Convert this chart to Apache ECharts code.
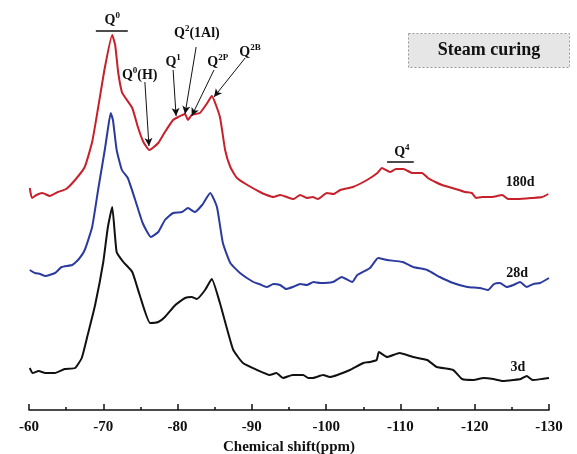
<!DOCTYPE html>
<html><head><meta charset="utf-8">
<script src="https://cdn.jsdelivr.net/npm/echarts@6/dist/echarts.min.js"></script>
<style>html,body{margin:0;padding:0;background:#fff}#c{width:577px;height:454px}</style>
</head><body><div id="c"></div>
<script>
// Chemical shift (ppm) and relative intensity for each curing age
const shift180 = [-60.1,-60.4,-61.0,-61.8,-62.8,-63.9,-65.0,-66.2,-67.5,-68.5,-69.3,-70.2,-71.2,-71.6,-72.0,-72.5,-72.9,-73.9,-74.7,-75.4,-76.2,-77.4,-78.3,-79.4,-80.1,-81.0,-81.4,-81.9,-83.0,-84.0,-84.6,-85.7,-86.4,-87.1,-88.0,-89.4,-91.1,-92.0,-92.9,-93.8,-94.7,-95.6,-96.5,-97.4,-98.2,-98.9,-100.1,-101.0,-101.9,-103.6,-105.5,-106.9,-107.5,-108.6,-109.4,-110.4,-111.6,-112.9,-113.7,-114.7,-115.6,-117.0,-118.7,-119.6,-120.2,-121.0,-122.3,-123.7,-124.5,-125.8,-127.7,-129.1,-129.9];
const int180   = [222,212,215,217,214,218,221,230,243,268,302,342,375,365,338,318,313,302,282,268,260,267,278,290,293,296,290,295,297,307,314,293,260,243,232,225,218,215,213,215,213,211,215,212,213,211,217,216,220,223,230,237,242,238,241,241,237,237,232,228,225,222,218,217,212,213,213,215,211,211,212,213,216];

const shift28 = [-60.1,-60.8,-61.5,-62.2,-63.5,-64.4,-65.8,-66.6,-67.5,-68.5,-69.3,-70.2,-70.6,-71.0,-71.3,-71.8,-72.5,-73.3,-74.3,-75.3,-76.4,-77.4,-78.3,-79.4,-80.6,-81.4,-82.3,-83.3,-84.4,-85.3,-86.1,-87.1,-88.4,-90.2,-91.0,-92.0,-92.9,-93.8,-94.6,-95.5,-96.5,-97.4,-98.3,-99.2,-100.9,-102.1,-103.5,-104.2,-105.9,-107.0,-108.2,-110.3,-111.7,-113.6,-115.3,-117.1,-119.0,-120.7,-121.8,-122.6,-123.4,-124.3,-125.2,-126.1,-127.0,-127.9,-128.8,-130.0];
const int28   = [140,137,136,134,137,143,145,150,160,183,220,260,280,297,290,260,240,232,210,187,173,178,190,197,198,202,198,205,217,203,167,147,137,128,126,123,126,125,121,123,126,125,128,127,128,133,128,135,142,152,150,148,143,140,133,127,123,122,120,126,127,123,125,128,123,126,127,132];

const shift3 = [-60.1,-60.5,-61.3,-62.2,-63.5,-64.8,-66.2,-67.1,-67.9,-68.9,-70.0,-70.6,-71.2,-71.8,-72.7,-73.9,-74.9,-76.3,-77.4,-78.3,-79.7,-81.0,-81.9,-82.6,-83.7,-84.6,-85.7,-86.7,-87.5,-88.8,-90.7,-92.4,-93.3,-94.2,-95.5,-96.9,-97.6,-98.2,-99.6,-100.5,-101.5,-103.2,-105.0,-105.9,-106.8,-107.1,-108.2,-109.9,-111.7,-113.6,-114.9,-117.1,-118.3,-119.8,-121.2,-122.5,-123.8,-125.2,-126.2,-127.0,-127.8,-129.0,-130.0];
const int3   = [42,37,39,37,37,41,42,52,75,105,148,182,203,158,148,138,115,87,88,93,105,112,113,111,120,131,107,80,60,47,40,35,37,32,35,35,32,32,35,33,35,40,47,48,50,58,53,57,53,50,43,40,31,30,32,31,29,30,31,34,30,31,32];

// Axis ticks
const xMin = -130, xMax = -60, xStep = 10;

// Peak assignment labels (rich text) and their anchor positions
const annoText = ['{b|Q}{s|0}', '{b|Q}{s|0}{b|(H)}', '{b|Q}{s|1}', '{b|Q}{s|2}{b|(1Al)}', '{b|Q}{s|2P}', '{b|Q}{s|2B}', '{b|Q}{s|4}', '{b|180d}', '{b|28d}', '{b|3d}'];
const annoX    = [-71.2, -74.9, -79.4, -82.6, -85.4, -89.75, -110.2, -126.1, -125.7, -125.8];
const annoY    = [390, 335, 348, 377, 348, 358, 258, 228, 137, 43];

// Arrows: start -> end (ppm, intensity)
const arrowFrom = [[-75.6,328],[-79.4,340],[-82.5,363],[-84.9,340],[-89.1,352]];
const arrowTo   = [[-76.15,264],[-79.8,294],[-81.0,296],[-81.9,294],[-84.9,313]];
// Bars under Q0 and Q4
const barFrom = [[-69.0,379],[-108.2,248]];
const barTo   = [[-73.3,379],[-111.8,248]];

const serif = '"Liberation Serif","Times New Roman",serif';
const richStyle = {
  b: {fontFamily: serif, fontWeight: 'bold', fontSize: 14, color: '#111', lineHeight: 18},
  s: {fontFamily: serif, fontWeight: 'bold', fontSize: 9, color: '#111', lineHeight: 18, verticalAlign: 'top', padding:[0,0,9,0]}
};

function pairs(xs, ys){ return xs.map((x,i)=>[x, ys[i]]); }

const chart = echarts.init(document.getElementById('c'), null, {renderer:'canvas'});
const lineCommon = {type:'line', showSymbol:false, smooth:0.15, lineStyle:{width:2}, animation:false};

chart.setOption({
  animation: false,
  grid: {left: 29, right: 28, top: 10, bottom: 44, containLabel: false, outerBoundsMode: 'none'},
  xAxis: {
    type: 'value', min: xMin, max: xMax, interval: xStep, inverse: true,
    name: 'Chemical shift(ppm)', nameLocation: 'middle', nameGap: 29,
    nameTextStyle: {fontFamily: serif, fontWeight: 'bold', fontSize: 15, color: '#111'},
    axisLine: {lineStyle: {color: '#111', width: 1.5}},
    axisTick: {inside: true, length: 6, lineStyle: {color: '#111', width: 1.5}},
    minorTick: {show: true, splitNumber: 2, length: 3, lineStyle: {color: '#111', width: 1.5}},
    axisLabel: {fontFamily: serif, fontWeight: 'bold', fontSize: 15, color: '#111', margin: 10},
    splitLine: {show: false}
  },
  yAxis: {type: 'value', min: 0, max: 400, show: false},
  graphic: [{
    type: 'group', left: 408, top: 33,
    children: [
      {type:'rect', shape:{x:0,y:0,width:161,height:34}, style:{fill:'#e6e6e6', stroke:'#9a9a9a', lineWidth:1, lineDash:[2,2]}},
      {type:'text', style:{text:'Steam curing', x:80.5, y:17, textAlign:'center', textVerticalAlign:'middle', font:'bold 18px "Liberation Serif", serif', fill:'#111'}}
    ]
  }],
  series: [
    Object.assign({}, lineCommon, {name:'3d', data: pairs(shift3, int3), lineStyle:{width:2, color:'#111'}, itemStyle:{color:'#111'}}),
    Object.assign({}, lineCommon, {name:'28d', data: pairs(shift28, int28), lineStyle:{width:2, color:'#2b3a9e'}, itemStyle:{color:'#2b3a9e'}}),
    Object.assign({}, lineCommon, {name:'180d', data: pairs(shift180, int180), lineStyle:{width:2, color:'#c8202b'}, itemStyle:{color:'#c8202b'},
      markLine: {
        silent: true, animation:false, symbol: ['none','arrow'], symbolSize: [6,8],
        label: {show:false},
        lineStyle: {color:'#111', width:1, type:'solid', opacity:1},
        data: arrowFrom.map((p,i)=>[{coord:p},{coord:arrowTo[i]}]).concat(
          barFrom.map((p,i)=>[{coord:p, symbol:'none'},{coord:barTo[i], symbol:'none', lineStyle:{width:1.5}}]))
      }
    }),
    {type:'scatter', symbolSize: 0, animation:false, silent:true, itemStyle:{opacity:1},
     data: annoX.map((x,i)=>({value:[x, annoY[i]], label:{formatter: annoText[i]}})),
     label: {show:true, position:'inside', rich: richStyle}
    }
  ]
});
</script></body></html>
